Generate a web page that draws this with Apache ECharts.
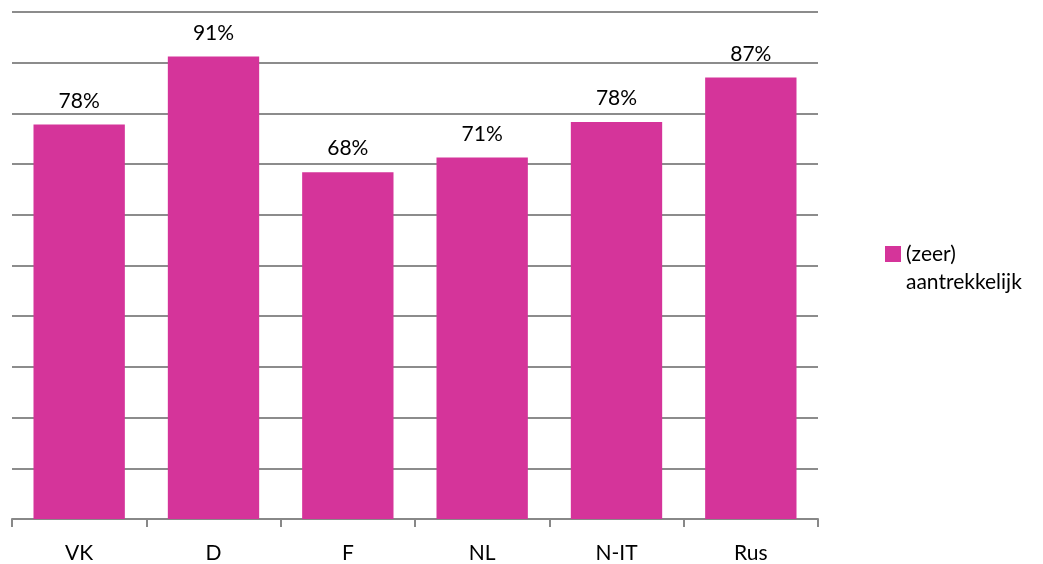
<!DOCTYPE html>
<html>
<head>
<meta charset="utf-8">
<script src="https://cdn.jsdelivr.net/npm/echarts@6/dist/echarts.min.js"></script>
<style>html,body{margin:0;padding:0;background:#fff}#c{width:1043px;height:564px}</style>
</head>
<body>
<div id="c"></div>
<script>
const categories = ['VK', 'D', 'F', 'NL', 'N-IT', 'Rus'];
const seriesName = '(zeer) aantrekkelijk';
const values = [77.8, 91.2, 68.4, 71.3, 78.3, 87.1];

const chart = echarts.init(document.getElementById('c'));
const font = 'Lato, "Open Sans", sans-serif';
chart.setOption({
  animation: false,
  grid: { left: 12, right: 225, top: 12, bottom: 44, containLabel: false },
  legend: {
    left: 880, top: 207,
    itemWidth: 16, itemHeight: 16, itemGap: 5,
    icon: 'rect',
    formatter: () => '\u00a0\n(zeer)\naantrekkelijk',
    textStyle: { fontFamily: font, fontSize: 21, color: '#000', lineHeight: 28 },
    data: [seriesName]
  },
  xAxis: {
    type: 'category', data: categories,
    axisLine: { lineStyle: { color: '#888', width: 2 } },
    axisTick: { show: true, length: 8, lineStyle: { color: '#888', width: 2 } },
    axisLabel: { fontFamily: font, fontSize: 21, color: '#000', margin: 24 }
  },
  yAxis: {
    type: 'value', min: 0, max: 100, interval: 10,
    axisLabel: { show: false }, axisLine: { show: false }, axisTick: { show: false },
    splitLine: { lineStyle: { color: '#8c8c8c', width: 2 } }
  },
  series: [{
    name: seriesName, type: 'bar', data: values,
    barCategoryGap: '32%',
    itemStyle: { color: '#D5349A' },
    label: { show: true, position: 'top', distance: 13, fontFamily: font, fontSize: 21, color: '#000',
      formatter: p => Math.round(p.value) + '%' }
  }]
});
</script>
</body>
</html>
